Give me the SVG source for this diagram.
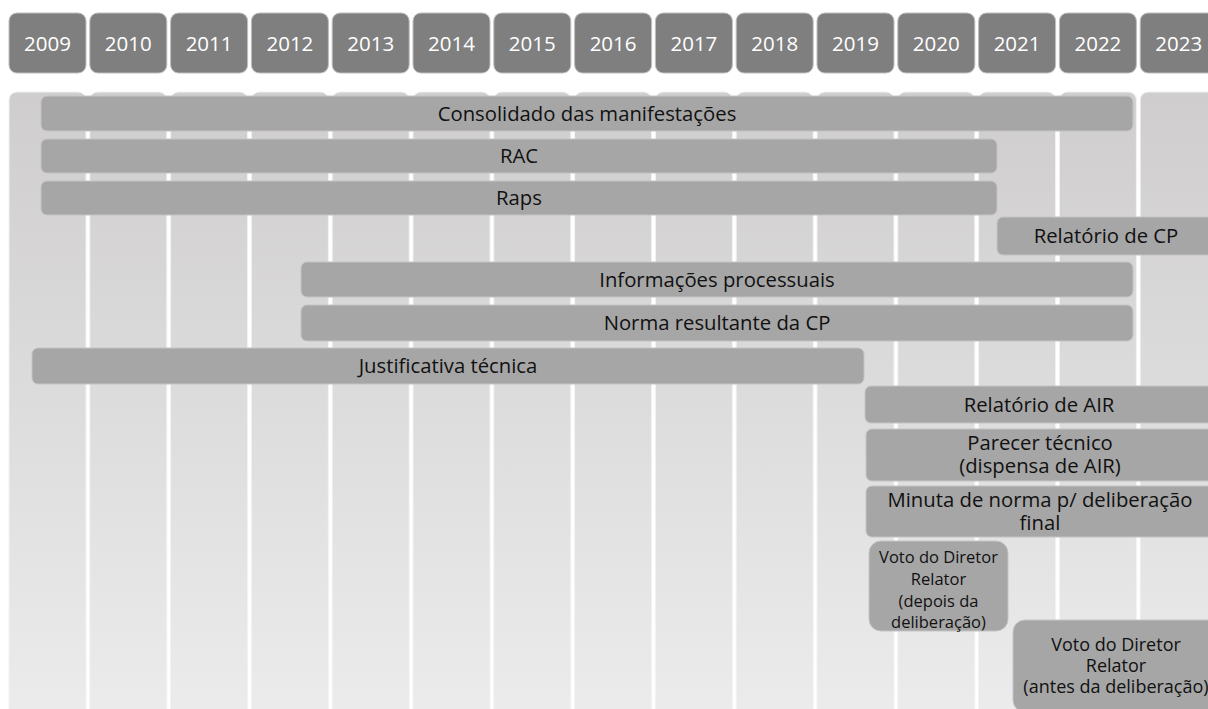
<svg xmlns="http://www.w3.org/2000/svg" width="1208" height="709" viewBox="0 0 1208 709">
<defs>
<linearGradient id="colg" x1="0" y1="0" x2="0" y2="1">
<stop offset="0" stop-color="#cfcdcd"/>
<stop offset="1" stop-color="#ececec"/>
</linearGradient>
</defs>
<style>
.yr{fill:#7f7f7f;stroke:#bfbfbf;stroke-width:1}
.yt{font-family:"Open Sans","Noto Sans",sans-serif;font-size:20.5px;fill:#ffffff;text-anchor:middle}
.col{fill:url(#colg);stroke:#f2f2f2;stroke-width:1}
.bar{fill:#a6a6a6;stroke:#c4c4c4;stroke-width:1}
.bt{font-family:"Open Sans","Noto Sans",sans-serif;font-size:20.3px;fill:#111111;text-anchor:middle}
.st{font-family:"Open Sans","Noto Sans",sans-serif;font-size:16.5px;fill:#111111;text-anchor:middle}
.mt{font-family:"Open Sans","Noto Sans",sans-serif;font-size:18px;fill:#111111;text-anchor:middle}
</style>
<rect width="1208" height="709" fill="#ffffff"/>
<g id="columns">
<rect class="col" x="9" y="92" width="77" height="630" rx="8"/>
<rect class="col" x="89.8" y="92" width="77" height="630" rx="8"/>
<rect class="col" x="170.6" y="92" width="77" height="630" rx="8"/>
<rect class="col" x="251.4" y="92" width="77" height="630" rx="8"/>
<rect class="col" x="332.2" y="92" width="77" height="630" rx="8"/>
<rect class="col" x="413" y="92" width="77" height="630" rx="8"/>
<rect class="col" x="493.8" y="92" width="77" height="630" rx="8"/>
<rect class="col" x="574.6" y="92" width="77" height="630" rx="8"/>
<rect class="col" x="655.4" y="92" width="77" height="630" rx="8"/>
<rect class="col" x="736.2" y="92" width="77" height="630" rx="8"/>
<rect class="col" x="817" y="92" width="77" height="630" rx="8"/>
<rect class="col" x="897.8" y="92" width="77" height="630" rx="8"/>
<rect class="col" x="978.6" y="92" width="77" height="630" rx="8"/>
<rect class="col" x="1059.4" y="92" width="77" height="630" rx="8"/>
<rect class="col" x="1140.2" y="92" width="77" height="630" rx="8"/>
</g>
<g id="years">
<g id="y2009"><rect class="yr" x="9" y="13" width="77" height="60" rx="8"/><text class="yt" x="47.5" y="51">2009</text></g>
<g id="y2010"><rect class="yr" x="89.8" y="13" width="77" height="60" rx="8"/><text class="yt" x="128.3" y="51">2010</text></g>
<g id="y2011"><rect class="yr" x="170.6" y="13" width="77" height="60" rx="8"/><text class="yt" x="209.1" y="51">2011</text></g>
<g id="y2012"><rect class="yr" x="251.4" y="13" width="77" height="60" rx="8"/><text class="yt" x="289.9" y="51">2012</text></g>
<g id="y2013"><rect class="yr" x="332.2" y="13" width="77" height="60" rx="8"/><text class="yt" x="370.7" y="51">2013</text></g>
<g id="y2014"><rect class="yr" x="413" y="13" width="77" height="60" rx="8"/><text class="yt" x="451.5" y="51">2014</text></g>
<g id="y2015"><rect class="yr" x="493.8" y="13" width="77" height="60" rx="8"/><text class="yt" x="532.3" y="51">2015</text></g>
<g id="y2016"><rect class="yr" x="574.6" y="13" width="77" height="60" rx="8"/><text class="yt" x="613.1" y="51">2016</text></g>
<g id="y2017"><rect class="yr" x="655.4" y="13" width="77" height="60" rx="8"/><text class="yt" x="693.9" y="51">2017</text></g>
<g id="y2018"><rect class="yr" x="736.2" y="13" width="77" height="60" rx="8"/><text class="yt" x="774.7" y="51">2018</text></g>
<g id="y2019"><rect class="yr" x="817" y="13" width="77" height="60" rx="8"/><text class="yt" x="855.5" y="51">2019</text></g>
<g id="y2020"><rect class="yr" x="897.8" y="13" width="77" height="60" rx="8"/><text class="yt" x="936.3" y="51">2020</text></g>
<g id="y2021"><rect class="yr" x="978.6" y="13" width="77" height="60" rx="8"/><text class="yt" x="1017.1" y="51">2021</text></g>
<g id="y2022"><rect class="yr" x="1059.4" y="13" width="77" height="60" rx="8"/><text class="yt" x="1097.9" y="51">2022</text></g>
<g id="y2023"><rect class="yr" x="1140.2" y="13" width="77" height="60" rx="8"/><text class="yt" x="1178.7" y="51">2023</text></g>
</g>
<g id="connectors"/>
<g id="bars">
<g id="consolidado"><rect class="bar" x="41" y="96" width="1092" height="35" rx="6"/><text class="bt" x="587" y="120.5">Consolidado das manifestações</text></g>
<g id="rac"><rect class="bar" x="41" y="139" width="956" height="34" rx="6"/><text class="bt" x="519" y="163">RAC</text></g>
<g id="raps"><rect class="bar" x="41" y="181" width="956" height="34" rx="6"/><text class="bt" x="519" y="205">Raps</text></g>
<g id="relatorio-cp"><rect class="bar" x="997" y="217" width="218" height="38" rx="6"/><text class="bt" x="1106" y="243">Relatório de CP</text></g>
<g id="informacoes"><rect class="bar" x="301" y="262" width="832" height="35" rx="6"/><text class="bt" x="717" y="286.5">Informações processuais</text></g>
<g id="norma"><rect class="bar" x="301" y="305" width="832" height="36" rx="6"/><text class="bt" x="717" y="330">Norma resultante da CP</text></g>
<g id="justificativa"><rect class="bar" x="32" y="348" width="832" height="36" rx="6"/><text class="bt" x="448" y="373">Justificativa técnica</text></g>
<g id="relatorio-air"><rect class="bar" x="865" y="386" width="348" height="37" rx="6"/><text class="bt" x="1039" y="411.5">Relatório de AIR</text></g>
<g id="parecer"><rect class="bar" x="866" y="429" width="348" height="52" rx="6"/><text class="bt" x="1040" y="450">Parecer técnico<tspan x="1040" dy="23">(dispensa de AIR)</tspan></text></g>
<g id="minuta"><rect class="bar" x="866" y="486" width="348" height="51" rx="6"/><text class="bt" x="1040" y="507">Minuta de norma p/ deliberação<tspan x="1040" dy="23">final</tspan></text></g>
<g id="voto-depois"><rect class="bar" x="869" y="541" width="139" height="90" rx="12"/><text class="st" x="938.5" y="563">Voto do Diretor<tspan x="938.5" dy="22">Relator</tspan><tspan x="938.5" dy="22">(depois da</tspan><tspan x="938.5" dy="21">deliberação)</tspan></text></g>
<g id="voto-antes"><rect class="bar" x="1013" y="620" width="206" height="92" rx="12"/><text class="mt" x="1116" y="651">Voto do Diretor<tspan x="1116" dy="21">Relator</tspan><tspan x="1116" dy="21">(antes da deliberação)</tspan></text></g>
</g>
</svg>
